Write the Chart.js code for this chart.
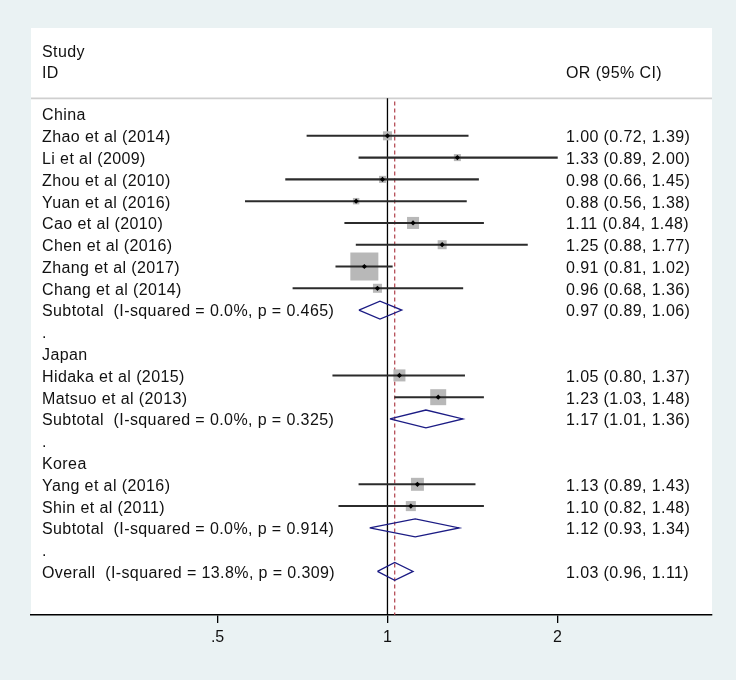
<!DOCTYPE html>
<html lang="en">
<head>
<meta charset="UTF-8" />
<title>Forest plot - OR (95% CI)</title>
<script src="https://cdn.jsdelivr.net/npm/chart.js"></script>
<style>
    body {
        margin: 0;
        background: #eaf2f3;
    }
    #wrap {
        width: 736px;
        height: 680px;
    }
</style>
</head>
<body>
<div id="wrap"><canvas id="forest" width="736" height="680"></canvas></div>
<script>
    // data
    const groups = ['China', 'Japan', 'Korea'];
    const studies = ['Zhao et al (2014)', 'Li et al (2009)', 'Zhou et al (2010)', 'Yuan et al (2016)',
        'Cao et al (2010)', 'Chen et al (2016)', 'Zhang et al (2017)', 'Chang et al (2014)',
        'Hidaka et al (2015)', 'Matsuo et al (2013)', 'Yang et al (2016)', 'Shin et al (2011)'];
    const studyGroup = [0, 0, 0, 0, 0, 0, 0, 0, 1, 1, 2, 2];
    const orValues = [1.00, 1.33, 0.98, 0.88, 1.11, 1.25, 0.91, 0.96, 1.05, 1.23, 1.13, 1.10];
    const orLower = [0.72, 0.89, 0.66, 0.56, 0.84, 0.88, 0.81, 0.68, 0.80, 1.03, 0.89, 0.82];
    const orUpper = [1.39, 2.00, 1.45, 1.38, 1.48, 1.77, 1.02, 1.36, 1.37, 1.48, 1.43, 1.48];
    const weights = [4.1, 2.5, 2.5, 2.1, 7.3, 4.1, 39.6, 4.1, 7.3, 12.9, 8.5, 5.1];

    const subLabels = ['Subtotal  (I-squared = 0.0%, p = 0.465)',
        'Subtotal  (I-squared = 0.0%, p = 0.325)',
        'Subtotal  (I-squared = 0.0%, p = 0.914)'];
    const subOr = [0.97, 1.17, 1.12];
    const subLower = [0.89, 1.01, 0.93];
    const subUpper = [1.06, 1.36, 1.34];

    const overallLabel = 'Overall  (I-squared = 13.8%, p = 0.309)';
    const overallOr = 1.03;
    const overallLower = 0.96;
    const overallUpper = 1.11;

    const xTicks = [0.5, 1, 2];
    const xTickLabels = ['.5', '1', '2'];

    // row layout: group title, studies, subtotal, "." spacer
    const studyRow = [], groupRow = [], subRow = [], dotRow = [];
    let r = 0;
    groups.forEach((g, gi) => {
        groupRow.push(r++);
        studyGroup.forEach((sg, i) => { if (sg === gi) studyRow[i] = r++; });
        subRow.push(r++);
        dotRow.push(r++);
    });
    const overallRow = r;

    const FONT = '16px "Liberation Sans", Arial, sans-serif';
    const TEXT = '#111';
    const headerLineRow = -0.72;
    const axisRow = 23;
    const halfDiamond = 0.41;

    function fmt(v, lo, hi) {
        return v.toFixed(2) + ' (' + lo.toFixed(2) + ', ' + hi.toFixed(2) + ')';
    }

    function diamond(est, lo, hi, row) {
        return [
            { x: lo, y: row },
            { x: est, y: row - halfDiamond },
            { x: hi, y: row },
            { x: est, y: row + halfDiamond },
            { x: lo, y: row }
        ];
    }

    const datasets = [];

    // confidence intervals (drawn over the boxes)
    datasets.push({
        type: 'bar',
        indexAxis: 'y',
        order: 3,
        data: orValues.map((v, i) => ({ y: studyRow[i], x: [orLower[i], orUpper[i]] })),
        backgroundColor: '#2b2b2b',
        barThickness: 1.4,
        borderWidth: 0,
        grouped: false
    });

    // weight boxes
    datasets.push({
        type: 'scatter',
        order: 4,
        data: orValues.map((v, i) => ({ x: v, y: studyRow[i] })),
        pointStyle: 'rect',
        pointRadius: weights.map(w => 4.45 * Math.sqrt(w) / Math.SQRT2),
        backgroundColor: '#b8b8b8',
        borderWidth: 0
    });

    // point estimates
    datasets.push({
        type: 'scatter',
        order: 1,
        data: orValues.map((v, i) => ({ x: v, y: studyRow[i] })),
        pointStyle: 'rectRot',
        pointRadius: 2.6,
        backgroundColor: '#000',
        borderWidth: 0
    });

    // pooled diamonds
    const pooled = subOr.map((v, i) => diamond(v, subLower[i], subUpper[i], subRow[i]));
    pooled.push(diamond(overallOr, overallLower, overallUpper, overallRow));
    pooled.forEach(pts => {
        datasets.push({
            type: 'line',
            order: 2,
            data: pts,
            borderColor: '#1b1b84',
            borderWidth: 1.3,
            pointRadius: 0,
            fill: false,
            tension: 0
        });
    });

    // null line and overall effect line
    datasets.push({
        type: 'line',
        order: 6,
        data: [{ x: 1, y: headerLineRow }, { x: 1, y: axisRow }],
        borderColor: '#000',
        borderWidth: 1.3,
        pointRadius: 0
    });
    datasets.push({
        type: 'line',
        order: 5,
        data: [{ x: overallOr, y: headerLineRow + 0.15 }, { x: overallOr, y: axisRow }],
        borderColor: '#b0404a',
        borderWidth: 1.2,
        borderDash: [4, 3],
        pointRadius: 0
    });

    const backgroundPlugin = {
        id: 'panel',
        beforeDraw(chart) {
            const { ctx, chartArea: a, scales: { y } } = chart;
            ctx.save();
            ctx.fillStyle = '#eaf2f3';
            ctx.fillRect(0, 0, chart.width, chart.height);
            ctx.fillStyle = '#ffffff';
            ctx.fillRect(a.left, a.top, a.right - a.left, a.bottom - a.top);
            const hy = y.getPixelForValue(headerLineRow);
            ctx.strokeStyle = '#cfcfcf';
            ctx.lineWidth = 1.6;
            ctx.beginPath();
            ctx.moveTo(a.left, hy);
            ctx.lineTo(a.right, hy);
            ctx.stroke();
            ctx.restore();
        }
    };

    const textPlugin = {
        id: 'forestText',
        afterDatasetsDraw(chart) {
            const { ctx, chartArea: a, scales: { y } } = chart;
            const left = a.left + 11;
            const right = a.left + 535;
            ctx.save();
            ctx.font = FONT;
            ctx.fillStyle = TEXT;
            ctx.letterSpacing = '0.4px';
            ctx.textBaseline = 'middle';
            ctx.textAlign = 'left';
            const put = (t, x, row) => ctx.fillText(t, x, y.getPixelForValue(row) + 2);

            put('Study', left, -2.89);
            put('ID', left, -1.93);
            put('OR (95% CI)', right, -1.93);

            groups.forEach((g, gi) => {
                put(g, left, groupRow[gi]);
                put(subLabels[gi], left, subRow[gi]);
                put(fmt(subOr[gi], subLower[gi], subUpper[gi]), right, subRow[gi]);
                put('.', left, dotRow[gi]);
            });
            studies.forEach((s, i) => {
                put(s, left, studyRow[i]);
                put(fmt(orValues[i], orLower[i], orUpper[i]), right, studyRow[i]);
            });
            put(overallLabel, left, overallRow);
            put(fmt(overallOr, overallLower, overallUpper), right, overallRow);
            ctx.restore();
        }
    };

    new Chart(document.getElementById('forest'), {
        type: 'scatter',
        data: { datasets: datasets },
        plugins: [backgroundPlugin, textPlugin],
        options: {
            responsive: false,
            animation: false,
            layout: { padding: { left: 31, right: 24, top: 28, bottom: 0 } },
            plugins: {
                legend: { display: false },
                tooltip: { enabled: false }
            },
            scales: {
                x: {
                    type: 'logarithmic',
                    min: 0.2336,
                    max: 3.758,
                    offset: false,
                    afterBuildTicks: s => { s.ticks = xTicks.map(v => ({ value: v })); },
                    afterFit: s => { s.height = 65; },
                    ticks: {
                        autoSkip: false,
                        maxRotation: 0,
                        padding: 5,
                        color: TEXT,
                        font: { family: '"Liberation Sans", Arial, sans-serif', size: 16 },
                        callback: (v, i) => xTickLabels[i]
                    },
                    grid: {
                        offset: false,
                        drawOnChartArea: false,
                        drawTicks: true,
                        tickLength: 8,
                        color: '#000',
                        lineWidth: 1.3
                    },
                    border: { display: true, color: '#000', width: 1.6 }
                },
                y: {
                    type: 'linear',
                    display: false,
                    reverse: true,
                    offset: false,
                    grid: { offset: false },
                    min: -3.95,
                    max: axisRow
                }
            }
        }
    });
</script>
</body>
</html>
